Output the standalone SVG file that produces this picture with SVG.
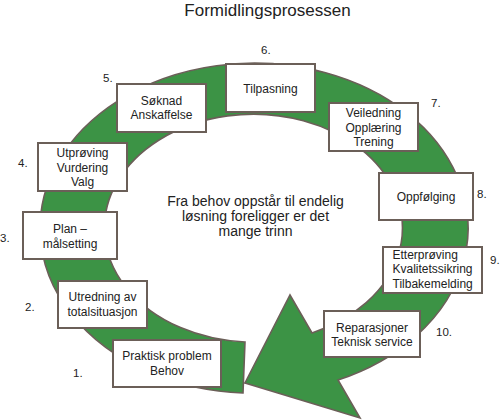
<svg xmlns="http://www.w3.org/2000/svg" width="500" height="420" viewBox="0 0 500 420">
<style>
.ring{fill:#3c9345;stroke:#6b5f58;stroke-width:1.6;stroke-linejoin:miter}
.box{fill:#ffffff;stroke:#6b5f58;stroke-width:2}
.t{font-family:"Liberation Sans",Arial,sans-serif;font-size:12px;fill:#222;text-anchor:middle}
.tl{font-family:"Liberation Sans",Arial,sans-serif;font-size:12px;fill:#222;text-anchor:start}
.num{font-family:"Liberation Sans",Arial,sans-serif;font-size:11.5px;fill:#222}
.title{font-family:"Liberation Sans",Arial,sans-serif;font-size:17px;fill:#222;text-anchor:middle}
.mid{font-family:"Liberation Sans",Arial,sans-serif;font-size:14px;fill:#222;text-anchor:middle}
</style>
<rect width="500" height="420" fill="#ffffff"/>
<text class="title" x="267.5" y="15.5">Formidlingsprosessen</text>
<g id="connectors">
<path class="ring" d="M 243 393 A 214 165 0 1 1 338 380 L 360 418 L 245 383 L 290 295 L 312 333 A 149 114 0 1 0 245 342 Z"/>
</g>
<text class="mid" x="255.5" y="205.5">Fra behov oppstår til endelig</text>
<text class="mid" x="255.5" y="220.5">løsning foreligger er det</text>
<text class="mid" x="255.5" y="235.5">mange trinn</text>
<g id="node1">
<rect class="box" x="113" y="340" width="108" height="47"/>
<text class="t" x="167" y="359.5">Praktisk problem</text>
<text class="t" x="167" y="374.5">Behov</text>
<text class="num" x="73" y="377">1.</text>
</g>
<g id="node2">
<rect class="box" x="58" y="281" width="89" height="47"/>
<text class="t" x="102.5" y="301">Utredning av</text>
<text class="t" x="102.5" y="316">totalsituasjon</text>
<text class="num" x="25" y="311">2.</text>
</g>
<g id="node3">
<rect class="box" x="23" y="212" width="94" height="47"/>
<text class="t" x="70" y="233">Plan –</text>
<text class="t" x="70" y="247.5">målsetting</text>
<text class="num" x="0" y="242">3.</text>
</g>
<g id="node4">
<rect class="box" x="38" y="143" width="89" height="48"/>
<text class="t" x="82.5" y="157">Utprøving</text>
<text class="t" x="82.5" y="171.5">Vurdering</text>
<text class="t" x="82.5" y="186">Valg</text>
<text class="num" x="18" y="167">4.</text>
</g>
<g id="node5">
<rect class="box" x="117" y="84" width="89" height="48"/>
<text class="t" x="161.5" y="104.5">Søknad</text>
<text class="t" x="161.5" y="119">Anskaffelse</text>
<text class="num" x="103" y="82">5.</text>
</g>
<g id="node6">
<rect class="box" x="226" y="64" width="89" height="48"/>
<text class="t" x="270.5" y="92.5">Tilpasning</text>
<text class="num" x="261" y="54">6.</text>
</g>
<g id="node7">
<rect class="box" x="329" y="103" width="89" height="48"/>
<text class="t" x="373.5" y="117">Veiledning</text>
<text class="t" x="373.5" y="131.5">Opplæring</text>
<text class="t" x="373.5" y="146">Trening</text>
<text class="num" x="431" y="107">7.</text>
</g>
<g id="node8">
<rect class="box" x="379" y="173" width="94" height="47"/>
<text class="t" x="426" y="201">Oppfølging</text>
<text class="num" x="477" y="198">8.</text>
</g>
<g id="node9">
<rect class="box" x="383" y="247" width="99" height="46"/>
<text class="tl" x="392.5" y="258.5">Etterprøving</text>
<text class="tl" x="392.5" y="273">Kvalitetssikring</text>
<text class="tl" x="392.5" y="287.5">Tilbakemelding</text>
<text class="num" x="490" y="264">9.</text>
</g>
<g id="node10">
<rect class="box" x="324" y="311" width="96" height="46"/>
<text class="t" x="372" y="331.5">Reparasjoner</text>
<text class="t" x="372" y="346">Teknisk service</text>
<text class="num" x="436" y="336">10.</text>
</g>
</svg>
